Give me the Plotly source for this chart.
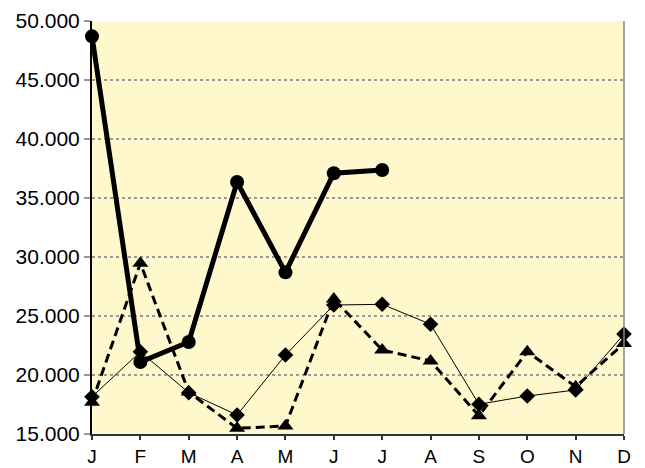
import plotly.graph_objects as go

months = ["J", "F", "M", "A", "M", "J", "J", "A", "S", "O", "N", "D"]
series_circle = [48700, 21100, 22800, 36350, 28700, 37100, 37370]
series_diamond = [18160, 21970, 18500, 16610, 21690, 25930, 25990, 24300, 17520, 18220, 18730, 23470]
series_triangle = [17700, 29480, 18550, 15480, 15680, 26450, 22120, 21190, 16550, 21970, 19010, 22680]
y_ticks = [15000, 20000, 25000, 30000, 35000, 40000, 45000, 50000]

xs = list(range(len(months)))

fig = go.Figure()
fig.add_trace(go.Scatter(
    x=xs, y=series_diamond, mode="lines+markers",
    line=dict(color="black", width=1),
    marker=dict(symbol="diamond", size=12, color="black"),
    showlegend=False, cliponaxis=False))
fig.add_trace(go.Scatter(
    x=xs, y=series_triangle, mode="lines+markers",
    line=dict(color="black", width=3, dash="9px,5px"),
    marker=dict(symbol="triangle-up", size=14, color="black"),
    showlegend=False, cliponaxis=False))
fig.add_trace(go.Scatter(
    x=xs[:len(series_circle)], y=series_circle, mode="lines+markers",
    line=dict(color="black", width=5),
    marker=dict(symbol="circle", size=14, color="black"),
    showlegend=False, cliponaxis=False))

fig.update_layout(
    width=637, height=460,
    margin=dict(l=84, r=21, t=13, b=34, autoexpand=False),
    paper_bgcolor="white", plot_bgcolor="#FFF8CC",
    separators=",.",
    font=dict(family="Liberation Sans, Arial, sans-serif", size=21, color="black"),
    xaxis=dict(
        range=[0, 11], tickvals=xs, ticktext=months, automargin=False,
        showgrid=False, zeroline=False,
        showline=True, linecolor="#333", linewidth=2,
        ticks="outside", ticklen=4, tickcolor="#333", tickwidth=2,
        tickfont=dict(size=19)),
    yaxis=dict(
        range=[15000, 50000], tickvals=y_ticks, tickformat=",d", automargin=False,
        showgrid=True, gridcolor="#999999", gridwidth=1.5, griddash="dot",
        zeroline=False,
        showline=True, linecolor="black", linewidth=2,
        ticks="outside", ticklen=6, tickcolor="#999999", tickwidth=1.5,
        tickfont=dict(size=21)),
    shapes=[dict(type="line", xref="paper", yref="paper", x0=1, x1=1, y0=0, y1=1,
                 line=dict(color="#888", width=1.5))],
)

fig.write_html("out.html")
